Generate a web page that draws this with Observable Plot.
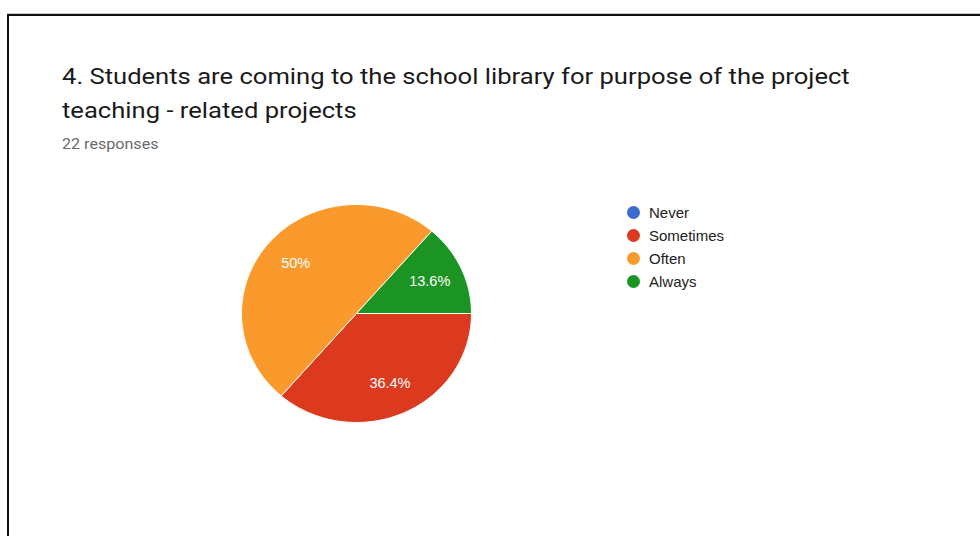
<!DOCTYPE html>
<html>
<head>
<meta charset="utf-8">
<script src="https://cdn.jsdelivr.net/npm/d3@7"></script>
<script src="https://cdn.jsdelivr.net/npm/@observablehq/plot@0.6"></script>
<style>
  body { margin: 0; background: #fff; }
  #wrap { position: relative; width: 980px; height: 536px; overflow: hidden; background: #fff; }
  #chart { position: absolute; left: 0; top: 0; }
  .bt { position: absolute; left: 7px; right: 0; top: 13px; height: 1px; background: #c8c8c8; }
  .bt2 { position: absolute; left: 7px; right: 0; top: 14px; height: 2px; background: #111; }
  .bl { position: absolute; left: 7px; top: 14px; bottom: 0; width: 2px; background: #111; }
  #title { position: absolute; left: 62px; top: 59px; font-family: Roboto, "Noto Sans", sans-serif; font-size: 22.5px; line-height: 34px; color: #1a1a1a; white-space: nowrap; transform: scaleX(1.137); transform-origin: 0 0; }
  #sub { position: absolute; left: 62px; top: 136px; font-family: Roboto, Arial, sans-serif; font-size: 14px; color: #6b6b6b; transform: scaleX(1.15); transform-origin: 0 0; }
  #legend { position: absolute; left: 627px; top: 201px; font-family: "Liberation Sans", Arial, sans-serif; font-size: 15px; color: #222; }
  .item { display: flex; align-items: center; height: 23px; }
  .sw { width: 13px; height: 13px; border-radius: 50%; margin-right: 9px; }
</style>
</head>
<body>
<div id="wrap">
  <div id="chart"></div>
  <div class="bt"></div><div class="bt2"></div><div class="bl"></div>
  <div id="title"></div>
  <div id="sub"></div>
  <div id="legend"></div>
</div>
<script>
const titleLines = ["4. Students are coming to the school library for purpose of the project", "teaching - related projects"];
const subtitle = "22 responses";
const categories = ["Never", "Sometimes", "Often", "Always"];
const counts = [0, 8, 11, 3];
const colors = ["#3b6bcf", "#db3a1f", "#fa9a2c", "#1c9424"];

document.getElementById("title").innerHTML = titleLines.join("<br>");
document.getElementById("sub").textContent = subtitle;
const leg = document.getElementById("legend");
categories.forEach((c, i) => {
  const row = document.createElement("div");
  row.className = "item";
  row.innerHTML = `<span class="sw" style="background:${colors[i]}"></span><span>${c}</span>`;
  leg.appendChild(row);
});

// Build slice polygons (start at 3 o'clock, clockwise)
const total = d3.sum(counts);
const piePts = [];
const labels = [];
let cum = 0;
categories.forEach((c, i) => {
  const frac = counts[i] / total;
  if (frac <= 0) return;
  const a0 = cum * 2 * Math.PI, a1 = (cum + frac) * 2 * Math.PI;
  const n = Math.max(2, Math.ceil(frac * 240));
  piePts.push({cat: c, x: 0, y: 0});
  for (let k = 0; k <= n; k++) {
    const t = a0 + (a1 - a0) * k / n;
    piePts.push({cat: c, x: Math.cos(t), y: -Math.sin(t)});
  }
  piePts.push({cat: c, x: 0, y: 0});
  const m = (a0 + a1) / 2;
  labels.push({cat: c, x: 0.7 * Math.cos(m), y: -0.7 * Math.sin(m), text: (+(frac * 100).toFixed(1)) + "%"});
  cum += frac;
});

const plot = Plot.plot({
  width: 980,
  height: 536,
  margin: 0,
  x: {domain: [-1, 1], range: [241, 471], axis: null},
  y: {domain: [-1, 1], range: [422, 204], axis: null},
  color: {domain: categories, range: colors},
  style: {background: "transparent", overflow: "visible"},
  marks: [
    Plot.line(piePts, {x: "x", y: "y", z: "cat", fill: "cat", stroke: "white", strokeWidth: 1, strokeLinejoin: "round", curve: "linear"}),
    Plot.text(labels, {x: "x", y: "y", text: "text", fill: "white", fontSize: 14.5, fontFamily: "Liberation Sans, Arial, sans-serif"})
  ]
});
document.getElementById("chart").appendChild(plot);
</script>
</body>
</html>
